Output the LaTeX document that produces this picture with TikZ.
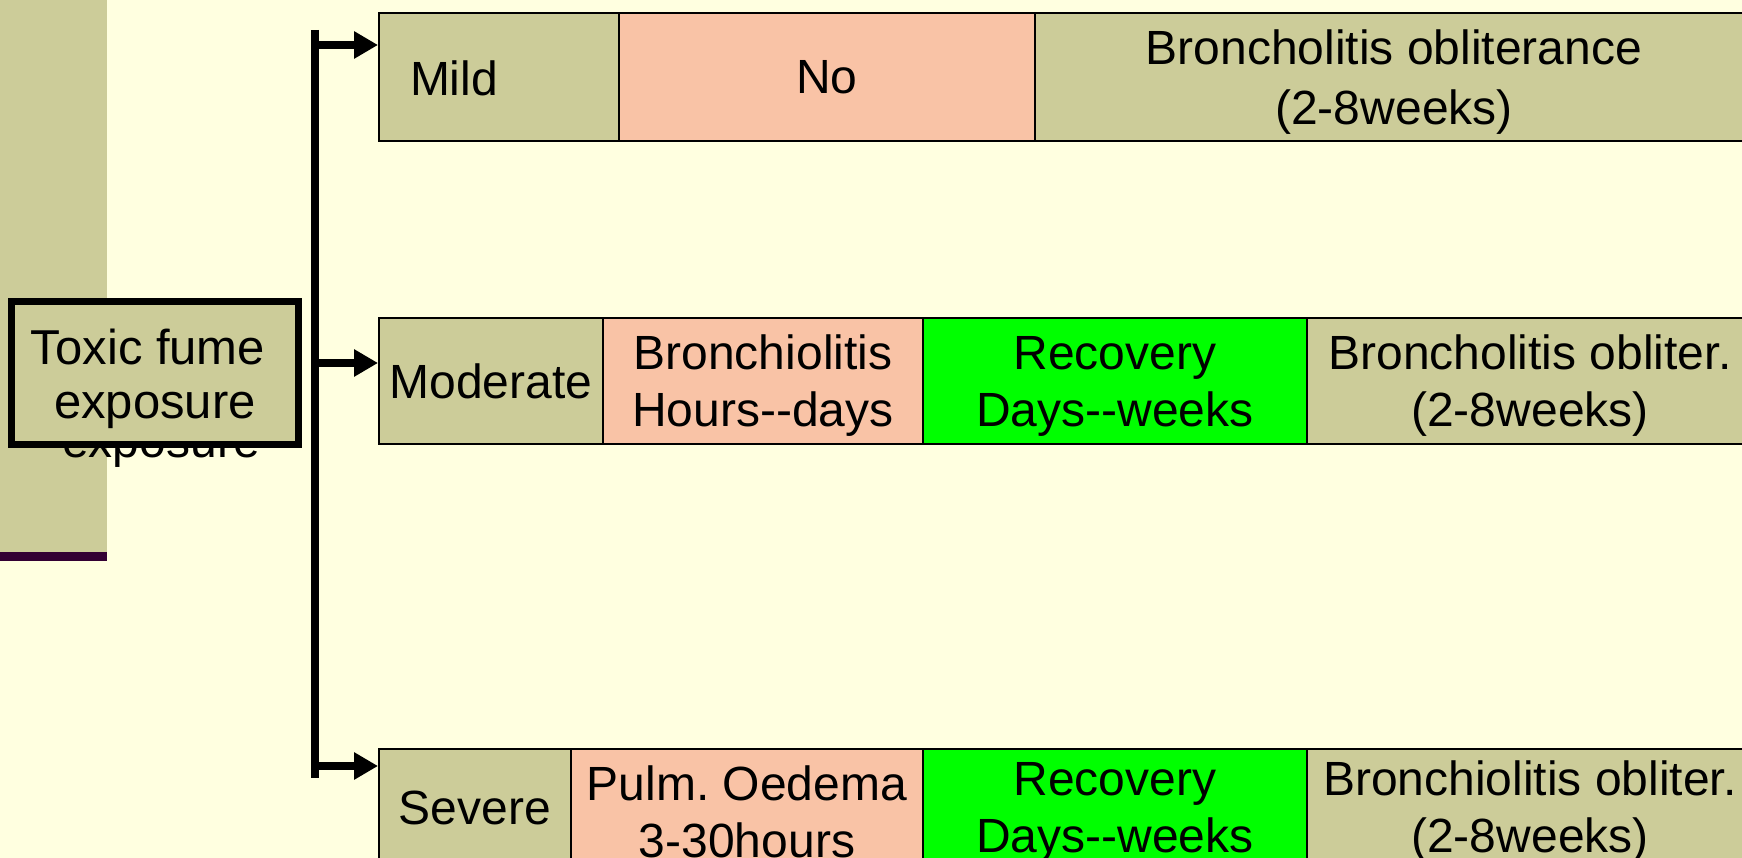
\documentclass[tikz,border=0pt]{standalone}
\usepackage{fontspec}
\setmainfont{Liberation Sans}[Ligatures=TeXOff]
\usetikzlibrary{arrows.meta}
\definecolor{bgyellow}{RGB}{255,255,224}
\definecolor{khaki}{RGB}{204,204,153}
\definecolor{salmon}{RGB}{249,195,166}
\definecolor{brightgreen}{RGB}{0,255,0}
\definecolor{darkpurple}{RGB}{51,0,51}
\newcommand{\topstrut}{\rule{0pt}{44pt}}
\newcommand{\botstrut}{\rule[-8pt]{0pt}{8pt}}
\frenchspacing
\tikzset{
  txt/.style={font=\fontsize{48}{60}\selectfont, align=center, inner sep=0pt},
  cell/.style={draw=black, line width=2pt, inner sep=0pt, anchor=north west,
    font=\fontsize{48}{57}\selectfont, align=center},
  rowone/.style={font=\fontsize{48}{60}\selectfont},
  khakicell/.style={cell, fill=khaki},
  salmoncell/.style={cell, fill=salmon},
  greencell/.style={cell, fill=brightgreen},
  branch/.style={line width=8pt, -{Triangle[length=24pt,width=26pt]}},
  trunk/.style={line width=8pt},
}
\begin{document}
\begin{tikzpicture}[x=1pt,y=-1pt]
\useasboundingbox (0,0) rectangle (1742,858);
\clip (0,0) rectangle (1742,858);
\fill[bgyellow] (0,0) rectangle (1742,858);
% left strip
\fill[khaki] (0,0) rectangle (107,552);
\fill[darkpurple] (0,552) rectangle (107,561);
% ghost text behind box
\node[txt, anchor=base] (ghost) at (161,457) {exposure};
% toxic box
\node[draw=black, line width=7pt, fill=khaki, inner sep=0pt, minimum width=287pt, minimum height=143pt, anchor=north west] (toxic) at (8,298) {};
\node[txt, font=\fontsize{49}{54}\selectfont] (toxictxt) at (155,379) {Toxic fume\hspace*{14pt}\\exposure};
% row 1
\node[khakicell, minimum width=240pt, minimum height=128pt] (mild) at (378,12) {};
\node[txt] (mildtxt) at (454,78) {Mild};
\node[salmoncell, minimum width=416pt, minimum height=128pt] (no) at (618,12) {No};
\node[khakicell, rowone, minimum width=718pt, minimum height=128pt] (bo1) at (1034,12) {\topstrut Broncholitis obliterance\\(2-8weeks)};
% row 2
\node[khakicell, minimum width=224pt, minimum height=126pt] (moderate) at (378,317) {Moderate};
\node[salmoncell, minimum width=320pt, minimum height=126pt] (bronch) at (602,317) {\topstrut Bronchiolitis\\Hours--days};
\node[greencell, minimum width=384pt, minimum height=126pt] (rec2) at (922,317) {\topstrut Recovery\\Days--weeks};
\node[khakicell, minimum width=446pt, minimum height=126pt] (bo2) at (1306,317) {\topstrut Broncholitis obliter.\\(2-8weeks)};
% row 3
\node[khakicell, minimum width=192pt, minimum height=126pt] (severe) at (378,748) {Severe\botstrut};
\node[salmoncell, minimum width=352pt, minimum height=126pt] (pulm) at (570,748) {Pulm. Oedema\\3-30hours};
\node[greencell, minimum width=384pt, minimum height=126pt] (rec3) at (922,748) {Recovery\\Days--weeks};
\node[khakicell, minimum width=446pt, minimum height=126pt] (bo3) at (1306,748) {Bronchiolitis obliter.\\(2-8weeks)};
% connectors
\coordinate (top) at (315,30);
\coordinate (bottom) at (315,778);
\coordinate (j1) at (315,45);
\coordinate (j2) at (315,363);
\coordinate (j3) at (315,766);
\draw[trunk] (top) -- (bottom);
\draw[branch] (j1) -- (j1 -| mild.west);
\draw[branch] (j2) -- (j2 -| moderate.west);
\draw[branch] (j3) -- (j3 -| severe.west);
\end{tikzpicture}
\end{document}
